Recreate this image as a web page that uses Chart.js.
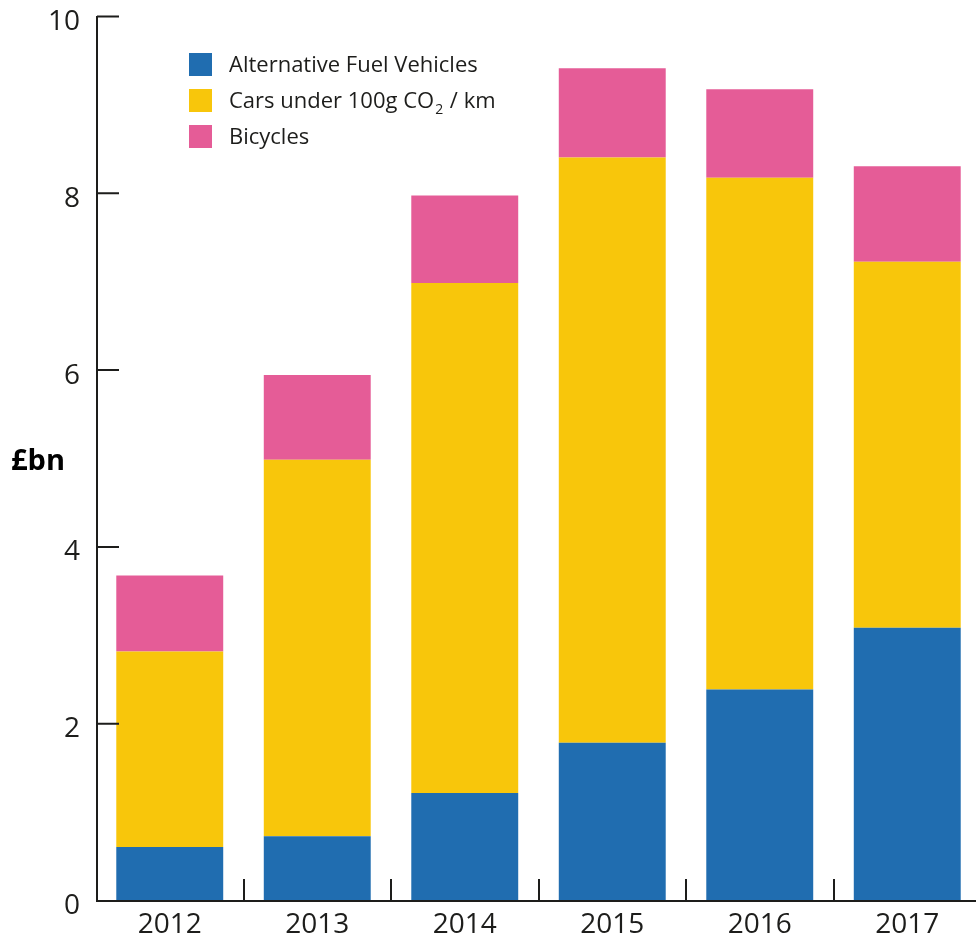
<!DOCTYPE html>
<html>
<head>
<meta charset="utf-8">
<script src="https://cdn.jsdelivr.net/npm/chart.js@4.4.1/dist/chart.umd.min.js"></script>
<style>
  html, body { margin: 0; padding: 0; background: #fff; overflow: hidden; }
  canvas { display: block; }
</style>
</head>
<body>
<canvas id="chart" width="984" height="937"></canvas>
<script>
const years = ["2012", "2013", "2014", "2015", "2016", "2017"];
const altFuel = [0.60, 0.72, 1.21, 1.78, 2.38, 3.08];
const lowCo2Cars = [2.21, 4.26, 5.77, 6.62, 5.79, 4.14];
const bicycles = [0.86, 0.96, 0.99, 1.01, 1.00, 1.08];
const yTicks = [0, 2, 4, 6, 8, 10];

const FONT = "'Open Sans', sans-serif";
const INK = "#1d1d1b";

// axis lines with the tick marks pointing into the plot
const axisLines = {
  id: "axisLines",
  afterDraw(chart){
    const {ctx, chartArea: a, scales: {x, y}} = chart;
    const left = a.left + 1;
    const bottom = y.getPixelForValue(0) + 1;
    ctx.save();
    ctx.strokeStyle = INK;
    ctx.lineWidth = 2;
    ctx.beginPath();
    ctx.moveTo(left, y.getPixelForValue(yTicks[yTicks.length - 1]));
    ctx.lineTo(left, bottom);
    yTicks.slice(1).forEach((v)=>{
      const py = y.getPixelForValue(v) + 0.5;
      ctx.moveTo(left, py);
      ctx.lineTo(left + 22, py);
    });
    ctx.moveTo(left - 1, bottom);
    ctx.lineTo(a.right, bottom);
    for(let i = 0; i < years.length - 1; i++){
      const px = Math.round((x.getPixelForTick(i) + x.getPixelForTick(i + 1)) / 2);
      ctx.moveTo(px, bottom);
      ctx.lineTo(px, bottom - 22);
    }
    ctx.stroke();
    ctx.restore();
  }
};

// draws a label, setting "₂" as a lowered small 2
function drawLabel(ctx, text, x, y){
  const parts = text.split("₂");
  ctx.textBaseline = "middle";
  ctx.textAlign = "left";
  parts.forEach((part, i)=>{
    ctx.font = "22px " + FONT;
    ctx.fillText(part, x, y);
    x += ctx.measureText(part).width;
    if(i < parts.length - 1){
      ctx.font = "14px " + FONT;
      ctx.fillText("2", x + 1, y + 8);
      x += ctx.measureText("2").width + 2;
    }
  });
}

const legendBox = {
  id: "legendBox",
  afterDraw(chart){
    const {ctx, chartArea: a} = chart;
    const x0 = a.left + 93;
    const y0 = a.top + 37;
    ctx.save();
    chart.data.datasets.forEach((ds, i)=>{
      const top = y0 + i * 36;
      ctx.fillStyle = ds.backgroundColor;
      ctx.fillRect(x0, top, 23, 23);
      ctx.fillStyle = INK;
      drawLabel(ctx, ds.label, x0 + 40, top + 13);
    });
    ctx.restore();
  }
};

// unit label, set horizontally beside the value axis
const unitLabel = {
  id: "unitLabel",
  afterDraw(chart){
    const {ctx, chartArea: a} = chart;
    ctx.save();
    ctx.fillStyle = "#000";
    ctx.font = "bold 29px " + FONT;
    ctx.textAlign = "center";
    ctx.textBaseline = "middle";
    ctx.fillText("£bn", 38, (a.top + a.bottom) / 2 + 4);
    ctx.restore();
  }
};

new Chart(document.getElementById("chart"), {
  type: "bar",
  data: {
    labels: years,
    datasets: [
      {label: "Alternative Fuel Vehicles", data: altFuel, backgroundColor: "#206db0"},
      {label: "Cars under 100g CO₂ / km", data: lowCo2Cars, backgroundColor: "#f8c60b"},
      {label: "Bicycles", data: bicycles, backgroundColor: "#e55c97"}
    ]
  },
  options: {
    responsive: false,
    animation: false,
    events: [],
    layout: {padding: {top: 16, right: 3, left: 0, bottom: 0}},
    datasets: {bar: {barPercentage: 0.725, categoryPercentage: 1, borderWidth: 0}},
    plugins: {legend: {display: false}, tooltip: {enabled: false}},
    scales: {
      x: {
        stacked: true,
        grid: {display: false, drawTicks: false},
        border: {display: false},
        ticks: {color: INK, font: {family: FONT, size: 28}, padding: 8, maxRotation: 0},
        afterFit(scale){ scale.height = 37; }
      },
      y: {
        stacked: true,
        min: 0,
        max: 10,
        grid: {display: false, drawTicks: false},
        border: {display: false},
        ticks: {
          stepSize: 2,
          color: INK,
          font: {family: FONT, size: 28},
          padding: 16,
          labelOffset: 6,
          callback: (v)=> yTicks.includes(v) ? String(v) : ""
        },
        afterFit(scale){
          scale.width = 96;
          scale.paddingTop = 0;
          scale.paddingBottom = 0;
        }
      }
    }
  },
  plugins: [axisLines, legendBox, unitLabel]
});
</script>
</body>
</html>
